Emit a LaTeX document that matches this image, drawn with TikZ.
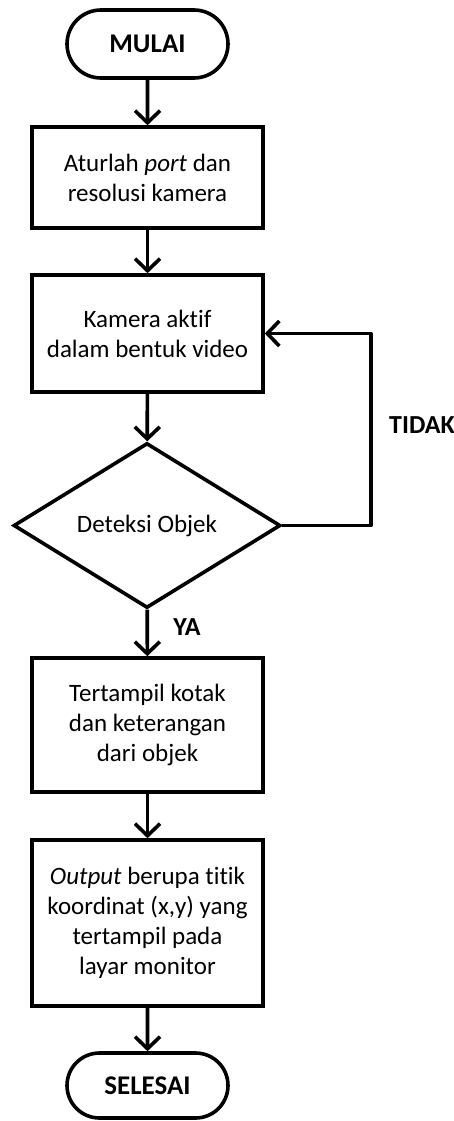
\documentclass[tikz,border=0pt]{standalone}
\usepackage{fontspec}
\setmainfont{Carlito}[Ligatures=CommonOff]
\usetikzlibrary{shapes.geometric,shapes.misc,arrows.meta}
\begin{document}
\begin{tikzpicture}[x=1pt,y=1pt,
  every node/.style={font=\fontsize{25}{30}\selectfont, align=center, line width=3.6pt},
  proc/.style={draw, rectangle, minimum width=231pt, inner sep=0pt},
  term/.style={draw, rounded rectangle, minimum width=161pt, inner sep=0pt, font=\fontsize{27}{30}\selectfont\bfseries},
  dec/.style={draw, diamond, minimum width=267pt, minimum height=165pt, inner sep=0pt},
  lbl/.style={font=\fontsize{26}{30}\selectfont\bfseries},
  flow/.style={line width=3.6pt, -{Straight Barb[length=12pt,width=25pt,line width=3.6pt]}}
]
\useasboundingbox (0,0) rectangle (454,-1121);
\node[term, minimum height=68pt] (start) at (147.5,-44) {MULAI};
\node[proc, minimum height=101pt] (b1) at (147.5,-177.5) {Aturlah \textit{port} dan\\resolusi kamera};
\node[proc, minimum height=117pt] (b2) at (147.5,-333.5) {Kamera aktif\\dalam bentuk video};
\node[dec] (dia) at (147,-525.5) {Deteksi Objek};
\node[proc, minimum height=134pt] (b3) at (147.5,-725) {Tertampil kotak\\dan keterangan\\dari objek};
\node[proc, minimum height=166pt] (b4) at (147.5,-923) {\textit{Output} berupa titik\\koordinat (x,y) yang\\tertampil pada\\layar monitor};
\node[term, minimum height=65pt] (stop) at (147.5,-1085.5) {SELESAI};
\coordinate (fb) at (371,0);
\node[lbl] (tidak) at (422,-425) {TIDAK};
\node[lbl] (ya) at (187,-627) {YA};
\draw[flow] (start) -- (b1);
\draw[flow] (b1) -- (b2);
\draw[flow] (b2) -- (dia);
\draw[flow] (dia) -- (b3);
\draw[flow] (b3) -- (b4);
\draw[flow] (b4) -- (stop);
\draw[flow, line join=round] (dia.east) -- (dia.east -| fb) |- (b2.east);
\end{tikzpicture}
\end{document}
